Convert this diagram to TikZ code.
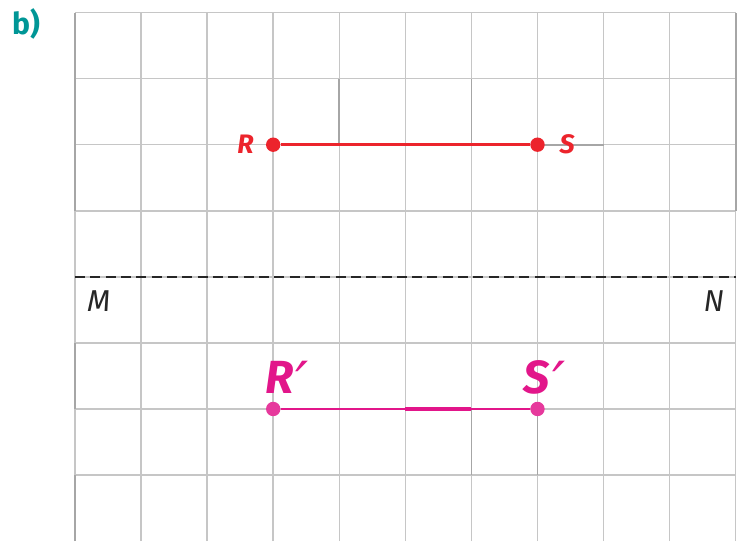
\documentclass[tikz,border=0pt]{standalone}
\usepackage{fontspec}
\setmainfont{Fira Sans}
\newfontfamily\primefont{DejaVu Sans}
\usepackage{tikz}
\usetikzlibrary{positioning}
\definecolor{segred}{RGB}{236,36,44}
\definecolor{imgmag}{RGB}{226,22,138}
\definecolor{lblteal}{RGB}{0,150,150}
\newcommand{\prm}{\kern1pt\raisebox{-4.5pt}{\primefont\fontsize{25}{25}\selectfont\mdseries\itshape ′}}
\tikzset{
  grd/.style={line width=0.65pt, gray!45},
  grdk/.style={line width=0.75pt, gray!70},
  axis/.style={line width=0.95pt, dash pattern=on 4.3pt off 2.3pt, black!85},
  seg/.style={line width=1.1pt, segred},
  img/.style={line width=1pt, imgmag},
  dot/.style={circle, fill, inner sep=0pt, minimum size=6.2pt},
  ptlbl/.style={inner sep=1pt, font=\fontsize{11.5}{13}\selectfont\bfseries\itshape, segred},
  imlbl/.style={inner sep=1pt, anchor=base, font=\fontsize{20}{24}\selectfont\bfseries\itshape, imgmag},
  axlbl/.style={inner sep=1pt, font=\fontsize{13}{15}\selectfont\itshape, black!85},
}

\begin{document}
\begin{tikzpicture}
  \useasboundingbox (-1.135,0) rectangle (10.05,8.19);
  % grid
  \foreach \x in {0,...,10} \draw[grd] (\x,0) -- (\x,8);
  \foreach \y in {1,...,8} \draw[grd] (0,\y) -- (10,\y);
  \draw[grdk] (0,5) -- (0,8) (10,5) -- (10,8) (0,0) -- (0,1) (0,2) -- (0,3);
  \draw[grdk] (4,6) -- (4,7) (6,6) -- (6,7) (7,6) -- (8,6) (6,1) -- (6,2) (7,1) -- (7,2);

  % mirror line
  \coordinate (mend) at (0,4);
  \coordinate (nend) at (10,4);
  \draw[axis] (mend) -- (nend);
  \node[axlbl] (m) at (0.36,3.64) {M};
  \node[axlbl] (n) at (9.67,3.64) {N};

  % segment RS
  \node[dot, segred] (r) at (3,6) {};
  \node[dot, segred] (s) at (7,6) {};
  \draw[seg] (r) -- (s);
  \node[ptlbl, left=4pt of r] (rl) {R};
  \node[ptlbl, right=5pt of s] (sl) {S};

  % image R'S'
  \node[dot, imgmag!85] (ri) at (3,2) {};
  \node[dot, imgmag!85] (si) at (7,2) {};
  \draw[img] (ri) -- (si);
  \coordinate (ka) at (5,2);
  \coordinate (kb) at (6,2);
  \draw[img, line width=1.5pt] (ka) -- (kb);
  \node[imlbl, xshift=6pt, yshift=6.8pt] (ril) at (ri.center) {R\prm};
  \node[imlbl, xshift=3pt, yshift=6.8pt] (sil) at (si.center) {S\prm};

  \node[inner sep=1pt, font=\fontsize{13}{15}\selectfont\bfseries, lblteal] (b) at (-0.74,7.83) {b)};
\end{tikzpicture}
\end{document}
